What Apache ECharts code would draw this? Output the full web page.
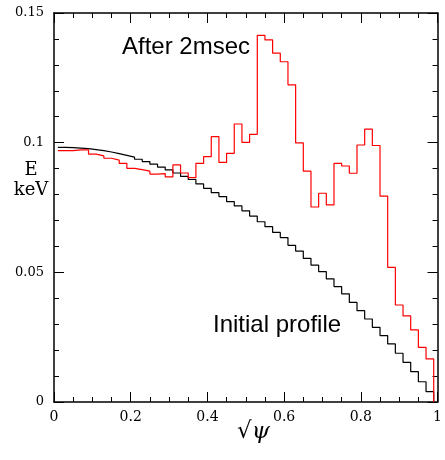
<!DOCTYPE html>
<html>
<head>
<meta charset="utf-8">
<script src="https://cdn.jsdelivr.net/npm/echarts@6/dist/echarts.min.js"></script>
<style>
  html, body { margin: 0; padding: 0; background: #fff; }
  #main { width: 445px; height: 460px; }
</style>
</head>
<body>
<div id="main"></div>
<script>
// bin centres in sqrt(psi), bin width 0.02
var psi = [0.02, 0.04, 0.06, 0.08, 0.10, 0.12, 0.14, 0.16, 0.18, 0.20,
           0.22, 0.24, 0.26, 0.28, 0.30, 0.32, 0.34, 0.36, 0.38, 0.40,
           0.42, 0.44, 0.46, 0.48, 0.50, 0.52, 0.54, 0.56, 0.58, 0.60,
           0.62, 0.64, 0.66, 0.68, 0.70, 0.72, 0.74, 0.76, 0.78, 0.80,
           0.82, 0.84, 0.86, 0.88, 0.90, 0.92, 0.94, 0.96, 0.98];
var binWidth = 0.02;

// initial profile (keV)
var initialE = [0.0982, 0.0981, 0.0979, 0.0977, 0.0973, 0.0969, 0.0964, 0.0958, 0.0951, 0.0944,
                0.0936, 0.0927, 0.0917, 0.0906, 0.0895, 0.0883, 0.0870, 0.0858, 0.0841, 0.0824,
                0.0807, 0.0792, 0.0773, 0.0756, 0.0737, 0.0717, 0.0695, 0.0676, 0.0654, 0.0634,
                0.0604, 0.0582, 0.0554, 0.0528, 0.0503, 0.0475, 0.0445, 0.0417, 0.0384, 0.0352,
                0.0320, 0.0288, 0.0256, 0.0224, 0.0188, 0.0153, 0.0117, 0.0078, 0.0040];

// after 2 msec (keV)
var after2msE = [0.0969, 0.0969, 0.0972, 0.0972, 0.0956, 0.0949, 0.0940, 0.0933, 0.0920, 0.0901,
                 0.0896, 0.0890, 0.0879, 0.0881, 0.0868, 0.0914, 0.0883, 0.0865, 0.0920, 0.0946,
                 0.1023, 0.0924, 0.0959, 0.1072, 0.1001, 0.1032, 0.1414, 0.1396, 0.1345, 0.1312,
                 0.1223, 0.0999, 0.0890, 0.0752, 0.0805, 0.0760, 0.0920, 0.0910, 0.0882, 0.0991,
                 0.1052, 0.0989, 0.0794, 0.0519, 0.0374, 0.0332, 0.0278, 0.0211, 0.0166];

var xTicks = [0, 0.2, 0.4, 0.6, 0.8, 1];
var yTicks = [0, 0.05, 0.1, 0.15];

// histogram-like steps: left edge of each bin, then drop to 0 at the last edge
function steps(vals) {
    var out = [];
    for (var i = 0; i < psi.length; i++) {
        out.push([+(psi[i] - binWidth / 2).toFixed(3), vals[i]]);
    }
    var last = +(psi[psi.length - 1] + binWidth / 2).toFixed(3);
    out.push([last, 0]);
    return out;
}

// fresh objects for every axis
function axisLine() { return { show: true, onZero: false, lineStyle: { color: '#000', width: 1.5 } }; }
function tick() { return { show: true, inside: true, length: 10, lineStyle: { color: '#000', width: 1 } }; }
function minor(n) { return { show: true, splitNumber: n, length: 5, lineStyle: { color: '#000', width: 1 } }; }

var myChart = echarts.init(document.getElementById('main'));
var option = {
    animation: false,
    backgroundColor: '#fff',
    grid: { left: 54, right: 1, top: 13, bottom: 58 },
    xAxis: [
        {
            type: 'value', position: 'bottom', min: xTicks[0], max: xTicks[xTicks.length - 1], interval: 0.2,
            axisLine: axisLine(), axisTick: tick(), minorTick: minor(4),
            splitLine: { show: false },
            axisLabel: { inside: false, color: '#000', fontFamily: 'DejaVu Serif', fontSize: 14, margin: 8 }
        },
        {
            type: 'value', position: 'top', min: 0, max: 1, interval: 0.2,
            axisLine: axisLine(), axisTick: tick(), minorTick: minor(4),
            splitLine: { show: false }, axisLabel: { show: false }
        }
    ],
    yAxis: [
        {
            type: 'value', position: 'left', min: yTicks[0], max: yTicks[yTicks.length - 1], interval: 0.05,
            axisLine: axisLine(), axisTick: tick(), minorTick: minor(5),
            splitLine: { show: false },
            axisLabel: { inside: false, color: '#000', fontFamily: 'DejaVu Serif', fontSize: 13, margin: 10 }
        },
        {
            type: 'value', position: 'right', min: 0, max: 0.15, interval: 0.05,
            axisLine: axisLine(), axisTick: tick(), minorTick: minor(5),
            splitLine: { show: false }, axisLabel: { show: false }
        }
    ],
    series: [
        {
            name: 'Initial profile', type: 'line', step: 'end', symbol: 'none',
            lineStyle: { color: '#000', width: 1.2 },
            data: steps(initialE)
        },
        {
            name: 'After 2msec', type: 'line', step: 'end', symbol: 'none',
            lineStyle: { color: '#ff0000', width: 1.2 },
            data: steps(after2msE)
        }
    ],
    graphic: [
        { type: 'text', left: 122, top: 35,
          style: { text: 'After 2msec', font: '24px "Liberation Sans"', fill: '#000' } },
        { type: 'text', left: 213, top: 313,
          style: { text: 'Initial profile', font: '24px "Liberation Sans"', fill: '#000' } },
        { type: 'text', x: 31, y: 170,
          style: { text: 'E', font: '18px "DejaVu Serif"', fill: '#000', align: 'center', verticalAlign: 'middle' } },
        { type: 'text', x: 31, y: 190,
          style: { text: 'keV', font: '18px "DejaVu Serif"', fill: '#000', align: 'center', verticalAlign: 'middle' } },
        { type: 'text', left: 237, top: 421,
          style: { text: '√ψ', font: 'italic 23px "DejaVu Serif"', fill: '#000' } }
    ]
};
myChart.setOption(option);
</script>
</body>
</html>
